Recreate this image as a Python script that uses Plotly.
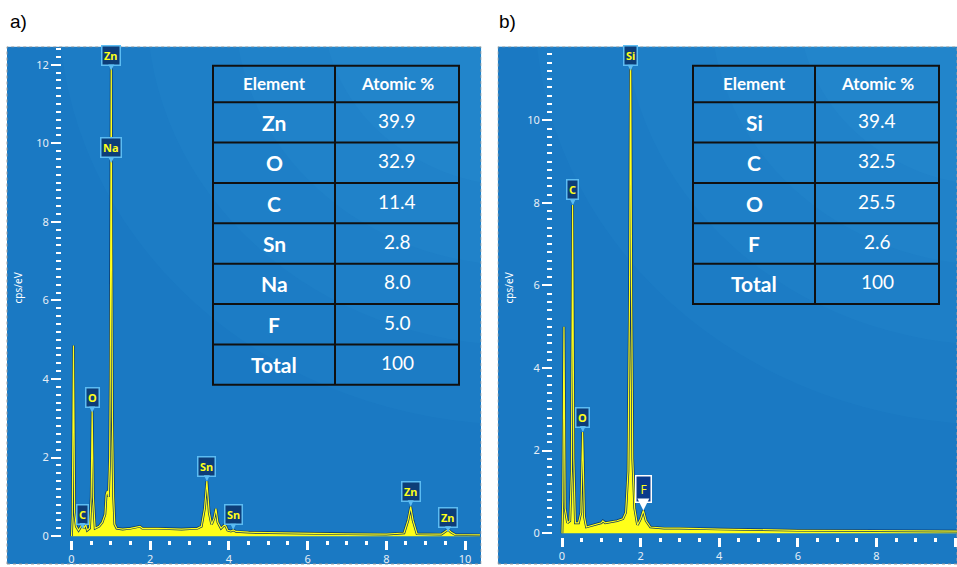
import plotly.graph_objects as go

W, H = 957, 567

# ---------------- data ----------------
# Panel a) spectrum (energy keV, cps/eV)
energy_a = [0.00, 0.02, 0.05, 0.08, 0.12, 0.18, 0.24, 0.28, 0.32, 0.36, 0.40, 0.46, 0.50, 0.525,
            0.555, 0.60, 0.70, 0.78, 0.85, 0.88, 0.91, 0.94, 0.97, 0.985, 1.00, 1.01, 1.02, 1.04,
            1.07, 1.10, 1.15, 1.30, 1.50, 1.74, 1.80, 2.20, 2.80, 3.20, 3.30, 3.38, 3.44, 3.50,
            3.56, 3.62, 3.67, 3.72, 3.80, 3.88, 3.92, 3.97, 4.05, 4.11, 4.18, 4.50, 5.00, 6.00,
            7.00, 8.00, 8.45, 8.55, 8.62, 8.68, 8.78, 9.40, 9.50, 9.57, 9.65, 9.75, 10.40]
counts_a = [0.00, 0.50, 4.85, 0.60, 0.25, 0.15, 0.25, 0.35, 0.20, 0.30, 0.15, 0.20, 1.00, 3.20,
            1.00, 0.20, 0.25, 0.35, 0.55, 1.05, 1.15, 1.00, 2.00, 4.00, 8.60, 12.30, 8.00, 3.00,
            1.00, 0.30, 0.20, 0.18, 0.20, 0.25, 0.20, 0.20, 0.18, 0.20, 0.25, 0.70, 1.40, 0.60,
            0.30, 0.45, 0.70, 0.35, 0.20, 0.28, 0.26, 0.15, 0.13, 0.16, 0.12, 0.10, 0.09, 0.07,
            0.06, 0.05, 0.08, 0.40, 0.75, 0.40, 0.06, 0.05, 0.12, 0.17, 0.10, 0.04, 0.03]

# Panel b) spectrum
energy_b = [0.00, 0.02, 0.05, 0.08, 0.14, 0.20, 0.24, 0.27, 0.30, 0.34, 0.42, 0.48, 0.525, 0.57,
            0.62, 0.80, 1.00, 1.04, 1.10, 1.40, 1.55, 1.62, 1.68, 1.72, 1.745, 1.77, 1.80, 1.85,
            1.92, 2.00, 2.07, 2.14, 2.25, 2.60, 3.00, 4.00, 5.00, 6.00, 8.00, 9.50, 10.10]
counts_b = [0.00, 0.80, 5.00, 0.60, 0.25, 0.30, 1.50, 7.95, 1.80, 0.25, 0.25, 0.50, 2.45, 0.40,
            0.15, 0.20, 0.25, 0.30, 0.25, 0.30, 0.35, 0.50, 1.50, 6.00, 12.50, 6.00, 1.80, 0.60,
            0.20, 0.35, 0.55, 0.30, 0.15, 0.12, 0.12, 0.10, 0.08, 0.07, 0.06, 0.06, 0.05]

# Peak labels (element, energy keV, label tip height cps/eV)
label_a_text = ["Zn", "Na", "O", "C", "Sn", "Sn", "Zn", "Zn"]
label_a_energy = [1.01, 1.01, 0.525, 0.28, 3.44, 4.11, 8.62, 9.57]
label_a_height = [11.85, 9.5, 3.15, 0.18, 1.4, 0.16, 0.76, 0.1]

label_b_text = ["Si", "C", "O"]
label_b_energy = [1.745, 0.275, 0.53]
label_b_height = [11.2, 7.95, 2.45]
label_b_sel_text = ["F"]
label_b_sel_energy = [2.07]
label_b_sel_height = [0.55]

# Tables
table_header = ["Element", "Atomic %"]
table_a_elements = ["Zn", "O", "C", "Sn", "Na", "F", "Total"]
table_a_atomic = [39.9, 32.9, 11.4, 2.8, 8.0, 5.0, 100]
table_b_elements = ["Si", "C", "O", "F", "Total"]
table_b_atomic = [39.4, 32.5, 25.5, 2.6, 100]

x_tick_step = 2
y_tick_step = 2

# ---------------- styling / layout helpers ----------------
def pxx(p):
    return p / W

def pxy(p):
    return 1 - p / H

BG = "#1a79c3"
YELLOW = "#ffff1a"
NAVY = "#0b3566"
TICKC = "#e6eef6"
FONT = "Noto Sans"

fig = go.Figure()

# spectra
for en, ct, xa, ya in [(energy_a, counts_a, "x", "y"), (energy_b, counts_b, "x2", "y2")]:
    fig.add_trace(go.Scatter(x=en, y=ct, mode="lines", fill="tozeroy", fillcolor=YELLOW,
                             line=dict(color=NAVY, width=2.6), xaxis=xa, yaxis=ya,
                             hoverinfo="skip", showlegend=False))
    fig.add_trace(go.Scatter(x=en, y=ct, mode="lines",
                             line=dict(color=YELLOW, width=1.2), xaxis=xa, yaxis=ya,
                             hoverinfo="skip", showlegend=False))

# axis geometry (pixel positions of panels)
ax_a = dict(x0=71.5, kx=39.35, left=62, right=480, y0=539, ky=39.5, bottom=543, top=48)
ax_b = dict(x0=562, kx=39.3, left=553, right=957, y0=536, ky=41.5, bottom=540, top=48)

def xaxis_cfg(g, anchor):
    return dict(domain=[pxx(g["left"]), pxx(g["right"])],
                range=[(g["left"] - g["x0"]) / g["kx"], (g["right"] - g["x0"]) / g["kx"]],
                anchor=anchor, tickmode="linear", tick0=0, dtick=x_tick_step,
                ticks="outside", ticklen=9, tickwidth=2.5, tickcolor="white",
                minor=dict(ticks="outside", tick0=0, dtick=0.5, ticklen=4, tickwidth=2.5,
                           tickcolor="white", showgrid=False),
                showgrid=False, zeroline=False, showline=False,
                tickfont=dict(family=FONT, size=11, color=TICKC))

def yaxis_cfg(g, anchor):
    return dict(domain=[pxy(g["bottom"]), pxy(g["top"])],
                range=[(g["y0"] - g["bottom"]) / g["ky"], (g["y0"] - g["top"]) / g["ky"]],
                anchor=anchor, tickmode="linear", tick0=0, dtick=y_tick_step,
                ticks="outside", ticklen=10, tickwidth=2, tickcolor="white",
                minor=dict(ticks="outside", tick0=0, dtick=0.2, ticklen=5, tickwidth=2,
                           tickcolor="white", showgrid=False),
                showgrid=False, zeroline=False, showline=False,
                tickfont=dict(family=FONT, size=11, color=TICKC))

shapes = []
annotations = []

# panel backgrounds with a soft lighter glow towards the upper right
for (l, r) in [(7, 481), (498, 957)]:
    shapes.append(dict(type="rect", xref="paper", yref="paper", x0=pxx(l), x1=pxx(r),
                       y0=0, y1=pxy(47), fillcolor=BG, line=dict(width=0), layer="below"))
    for k, rad in enumerate([420, 340, 260, 180]):
        cx, cy = r + 40, 47 - 40
        shapes.append(dict(type="circle", xref="paper", yref="paper",
                           x0=pxx(cx - rad * 1.1), x1=pxx(cx + rad * 1.1),
                           y0=pxy(cy + rad), y1=pxy(cy - rad),
                           fillcolor="rgba(70,180,240,0.06)", line=dict(width=0), layer="below"))
    shapes.append(dict(type="rect", xref="paper", yref="paper", x0=pxx(l), x1=pxx(r),
                       y0=0, y1=pxy(47), fillcolor="rgba(0,0,0,0)",
                       line=dict(width=1, color="#9a9a9a", dash="dot"), layer="below"))
# mask the glow outside panels
shapes.append(dict(type="rect", xref="paper", yref="paper", x0=0, x1=1, y0=pxy(46.5), y1=1,
                   fillcolor="white", line=dict(width=0), layer="below"))
shapes.append(dict(type="rect", xref="paper", yref="paper", x0=pxx(481.5), x1=pxx(497.5), y0=0, y1=1,
                   fillcolor="white", line=dict(width=0), layer="below"))

# panel letters and axis titles
for txt, x in [("a)", 18), ("b)", 508)]:
    annotations.append(dict(text=txt, xref="paper", yref="paper", x=pxx(x), y=pxy(22),
                            xanchor="center", yanchor="middle", showarrow=False,
                            font=dict(family="Liberation Sans", size=19, color="black")))
for x in [18, 509]:
    annotations.append(dict(text="cps/eV", xref="paper", yref="paper", x=pxx(x), y=pxy(290),
                            xanchor="center", yanchor="middle", showarrow=False, textangle=-90,
                            font=dict(family=FONT, size=10, color="white")))

# peak labels
def add_labels(texts, energies, heights, xr, yr):
    for t, e, h in zip(texts, energies, heights):
        annotations.append(dict(text="<b>%s</b>" % t, x=e, y=h, xref=xr, yref=yr,
                                showarrow=True, ax=0, ay=-15, arrowhead=2, arrowsize=0.8,
                                arrowwidth=1.5, arrowcolor="#5cbcf2", standoff=0,
                                bgcolor="#0d3d78", bordercolor="#5cbcf2", borderwidth=1.5,
                                borderpad=1.5, font=dict(family=FONT, size=11, color=YELLOW)))

add_labels(label_a_text, label_a_energy, label_a_height, "x", "y")
add_labels(label_b_text, label_b_energy, label_b_height, "x2", "y2")
for t, e, h in zip(label_b_sel_text, label_b_sel_energy, label_b_sel_height):
    annotations.append(dict(text=t, x=e, y=h, xref="x2", yref="y2",
                            showarrow=True, ax=0, ay=-21, arrowhead=2, arrowsize=1.6,
                            arrowwidth=1.5, arrowcolor="white", standoff=0,
                            bgcolor="#0a3a8c", bordercolor="white", borderwidth=1.5,
                            borderpad=4, font=dict(family=FONT, size=12, color=YELLOW)))

# tables
def add_table(left, mid, right, top, header_h, row_h, names, values):
    n = len(names)
    bottom = top + header_h + n * row_h
    lc = dict(color="#101010", width=2)
    shapes.append(dict(type="rect", xref="paper", yref="paper", x0=pxx(left), x1=pxx(right),
                       y0=pxy(bottom), y1=pxy(top), line=lc))
    shapes.append(dict(type="line", xref="paper", yref="paper", x0=pxx(mid), x1=pxx(mid),
                       y0=pxy(bottom), y1=pxy(top), line=lc))
    for i in range(n):
        yy = top + header_h + i * row_h
        shapes.append(dict(type="line", xref="paper", yref="paper", x0=pxx(left), x1=pxx(right),
                           y0=pxy(yy), y1=pxy(yy), line=lc))
    cl = (left + mid) / 2
    cr = (mid + right) / 2
    hy = top + header_h / 2
    for txt, cx in [(table_header[0], cl), (table_header[1], cr)]:
        annotations.append(dict(text="<b>%s</b>" % txt, xref="paper", yref="paper",
                                x=pxx(cx), y=pxy(hy), xanchor="center", yanchor="middle",
                                showarrow=False, font=dict(family="Lato", size=17, color="white")))
    for i, (nm, v) in enumerate(zip(names, values)):
        cy = top + header_h + i * row_h + row_h / 2
        vs = "%d" % v if nm == "Total" else "%.1f" % v
        annotations.append(dict(text="<b>%s</b>" % nm, xref="paper", yref="paper",
                                x=pxx(cl), y=pxy(cy), xanchor="center", yanchor="middle",
                                showarrow=False, font=dict(family="Lato", size=21, color="white")))
        annotations.append(dict(text=vs, xref="paper", yref="paper",
                                x=pxx(cr), y=pxy(cy - 2), xanchor="center", yanchor="middle",
                                showarrow=False, font=dict(family="Lato", size=19, color="white")))

add_table(213, 335, 459, 66, 36.7, 40.6, table_a_elements, table_a_atomic)
add_table(693, 815, 939, 66, 36.7, 40.6, table_b_elements, table_b_atomic)

fig.update_layout(
    width=W, height=H, margin=dict(l=0, r=0, t=0, b=0),
    paper_bgcolor="white", plot_bgcolor="rgba(0,0,0,0)",
    xaxis=xaxis_cfg(ax_a, "y"), yaxis=yaxis_cfg(ax_a, "x"),
    xaxis2=xaxis_cfg(ax_b, "y2"), yaxis2=yaxis_cfg(ax_b, "x2"),
    shapes=shapes, annotations=annotations, showlegend=False,
)

fig.write_html("out.html", config={"displayModeBar": False},
               post_script="document.body.style.margin='0';")
